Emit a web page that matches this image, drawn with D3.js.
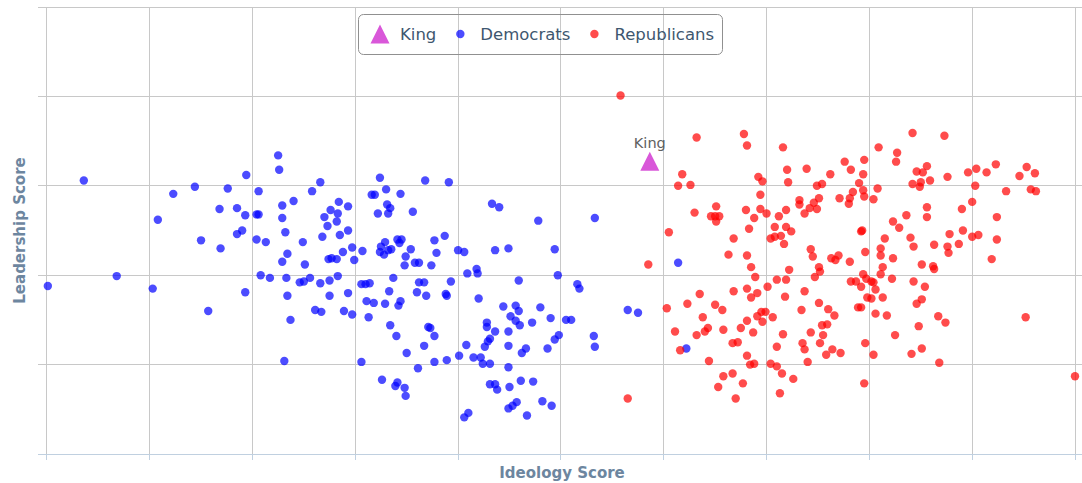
<!DOCTYPE html>
<html>
<head>
<meta charset="utf-8">
<script src="https://cdn.jsdelivr.net/npm/d3@7/dist/d3.min.js"></script>
<style>
  html, body { margin: 0; padding: 0; background: #fff; }
  svg { display: block; font-family: "DejaVu Sans", "Lucida Grande", sans-serif; }
</style>
</head>
<body>
<svg id="chart" width="1082" height="483"></svg>
<script>
// ---- data (ideology score on x, leadership score on y) ----
const seriesNames = ["King", "Democrats", "Republicans"];
const xTicks = [0, 1, 2, 3, 4, 5, 6, 7, 8, 9, 10];
const yTicks = [0, 1, 2, 3, 4, 5];

const king = [[5.865, 3.275]];

const democrats = [
  [0.36,3.06],[0.01,1.88],[0.68,1.99],
  [2.25,3.34],[2.26,3.18],[1.94,3.12],[2.66,3.04],[1.44,2.99],[1.23,2.91],[1.76,2.97],[2.06,2.94],[2.58,2.94],[2.40,2.83],[2.29,2.78],[1.68,2.74],[1.85,2.75],[1.93,2.67],[2.04,2.68],[2.06,2.68],[2.29,2.64],[2.76,2.73],[2.70,2.65],[2.73,2.55],[1.08,2.62],[1.90,2.50],[1.85,2.46],[2.32,2.48],[2.68,2.43],[1.50,2.39],[1.69,2.30],[2.04,2.40],[2.13,2.37],[2.49,2.37],[2.34,2.24],[2.29,2.15],[2.51,2.12],[2.74,2.18],[2.77,2.19],[2.08,2.00],[2.17,1.97],[2.33,1.97],[2.46,1.92],[2.50,1.93],[2.56,1.97],[2.66,1.91],[2.75,1.94],[1.03,1.85],[1.93,1.81],[2.34,1.77],[2.75,1.77],[1.57,1.60],[2.61,1.61],[2.67,1.59],[2.37,1.50],[2.31,1.04],
  [3.24,3.09],[3.68,3.06],[3.91,3.04],[3.30,2.96],[3.16,2.90],[3.19,2.90],[3.44,2.91],[2.84,2.82],[2.93,2.77],[2.83,2.69],[2.82,2.60],[3.31,2.79],[3.34,2.75],[3.22,2.69],[3.32,2.69],[3.56,2.71],[4.33,2.80],[4.40,2.76],
  [2.85,2.45],[2.93,2.50],[2.97,2.31],[2.88,2.26],[2.82,2.18],[2.99,2.17],[3.07,2.27],
  [3.29,2.37],[3.25,2.32],[3.24,2.26],[3.28,2.23],[3.32,2.28],[3.35,2.29],[3.41,2.40],[3.45,2.40],[3.43,2.36],[3.54,2.29],[3.49,2.21],[3.48,2.11],[3.58,2.14],[3.62,2.14],[3.74,2.11],[3.77,2.39],[3.87,2.44],[3.79,2.25],[4.00,2.28],[4.06,2.26],[4.36,2.28],[4.49,2.30],[4.09,2.02],[4.18,2.07],[4.19,2.02],[4.59,1.94],
  [2.83,1.99],[3.06,1.90],[3.10,1.90],[3.14,1.91],[3.37,1.97],[2.93,1.80],[3.33,1.82],[3.11,1.71],[3.18,1.69],[3.29,1.68],[3.44,1.71],[3.42,1.66],[3.60,1.81],[3.62,1.92],[3.67,1.92],[3.69,1.77],[3.93,1.93],[3.88,1.79],[3.89,1.77],[4.20,1.74],
  [2.89,1.60],[2.97,1.56],[3.13,1.53],[3.34,1.44],[3.40,1.32],[3.71,1.42],[3.73,1.41],[3.77,1.32],[3.67,1.21],[3.50,1.13],[3.06,1.03],[3.61,0.96],[3.77,1.03],[3.89,1.05],[4.01,1.10],[4.08,1.22],[4.15,1.08],[4.22,1.08],[4.24,1.01],[4.31,1.01],
  [4.44,1.65],[4.56,1.66],[4.59,1.60],[4.51,1.54],[4.56,1.49],[4.60,1.44],[4.28,1.47],[4.28,1.42],[4.36,1.37],[4.31,1.29],[4.29,1.26],[4.26,1.20],[4.49,1.37],[4.49,1.21],[4.62,1.13],[4.66,1.18],[4.49,0.97],[4.61,0.82],
  [3.26,0.83],[3.41,0.80],[3.39,0.76],[3.48,0.74],[3.49,0.65],[4.31,0.78],[4.36,0.78],[4.38,0.72],[4.50,0.75],[4.49,0.51],[4.53,0.54],[4.57,0.58],[4.67,0.43],[4.06,0.41],[4.10,0.46],
  [4.78,2.61],[5.33,2.64],[4.94,2.29],[4.97,2.00],[5.16,1.90],[5.18,1.85],[4.80,1.64],[4.72,1.47],[4.90,1.52],[5.05,1.50],[5.10,1.50],[4.98,1.33],[4.94,1.28],[4.87,1.18],[5.32,1.32],[5.33,1.20],[5.65,1.61],[5.75,1.58],[4.73,0.81],[4.82,0.59],[4.91,0.54],
  [6.14,2.14],[6.22,1.18]
];

const republicans = [
  [5.58,4.01],[5.65,0.62],
  [6.32,3.54],[6.78,3.58],[6.81,3.45],[7.16,3.43],[6.18,3.13],[6.14,3.00],[6.26,3.01],[7.20,3.18],[7.21,3.04],[6.92,3.10],[6.96,3.05],[6.94,2.90],[6.30,2.70],[6.51,2.77],[6.46,2.66],[6.50,2.66],[6.54,2.66],[6.51,2.60],[6.80,2.73],[6.88,2.64],[6.94,2.74],[7.00,2.69],[7.12,2.66],[7.19,2.73],[6.83,2.52],[7.08,2.54],[7.19,2.54],[7.24,2.49],[6.68,2.41],[7.04,2.41],[7.08,2.43],[7.14,2.44],[7.17,2.35],[6.05,2.48],[6.63,2.23],[6.81,2.22],[6.85,2.09],[6.89,1.98],[7.22,2.06],[7.10,1.95],[7.19,1.95],[7.01,1.87],[5.85,2.12],[6.35,1.79],[6.68,1.82],[6.81,1.85],[6.85,1.75],[6.91,1.80],[7.18,1.76],[6.03,1.63],[6.23,1.68],[6.50,1.67],[6.57,1.61],[6.95,1.59],[6.99,1.59],[6.91,1.54],[6.96,1.48],[7.06,1.53],[6.38,1.53],[6.81,1.49],[6.43,1.41],[6.40,1.37],[6.32,1.33],[6.58,1.39],[6.75,1.41],[6.87,1.36],[6.11,1.37],[7.16,1.34],[6.67,1.24],[6.72,1.25],[6.16,1.16],[7.10,1.20],[6.81,1.10],[6.84,1.00],[6.88,1.01],[6.44,1.04],[7.04,1.01],[7.10,0.98],[7.15,0.90],[7.26,0.84],[6.58,0.87],[6.67,0.90],[6.77,0.79],[6.53,0.75],[6.70,0.62],[7.13,0.68],
  [8.42,3.59],[8.09,3.43],[8.27,3.37],[8.26,3.27],[7.76,3.27],[7.95,3.29],[7.39,3.19],[7.62,3.13],[7.82,3.18],[7.94,3.13],[8.46,3.16],[8.52,3.15],[8.56,3.22],[8.59,3.06],[7.49,3.00],[7.54,3.02],[7.90,3.03],[7.94,2.95],[7.84,2.93],[7.81,2.86],[7.95,2.88],[8.04,2.85],[8.08,2.97],[7.71,2.86],[7.80,2.80],[7.32,2.84],[7.32,2.79],[7.51,2.86],[7.46,2.81],[7.42,2.75],[7.49,2.74],[7.37,2.69],[8.42,3.02],[8.49,2.99],[8.50,3.04],[8.56,2.76],[8.56,2.65],[8.36,2.67],[8.23,2.60],[8.29,2.53],[7.92,2.49],[7.93,2.50],[8.40,2.42],[8.43,2.32],[8.15,2.41],[8.63,2.34],[8.11,2.30],[8.11,2.22],[8.23,2.19],[7.96,2.26],[7.43,2.29],[7.45,2.21],[7.63,2.19],[7.67,2.17],[7.70,2.22],[7.81,2.15],[7.51,2.09],[7.52,2.04],[7.47,1.98],[8.51,2.12],[8.62,2.10],[8.63,2.07],[8.13,2.09],[8.11,2.01],[7.94,2.01],[7.82,1.93],[7.87,1.93],[7.97,1.96],[8.02,1.93],[8.04,1.92],[7.92,1.87],[8.22,1.96],[8.43,1.93],[8.54,1.87],[8.06,1.84],[7.37,1.82],[7.98,1.75],[8.02,1.74],[8.13,1.75],[7.51,1.69],[7.89,1.64],[7.92,1.64],[8.46,1.68],[8.51,1.73],[7.34,1.61],[7.60,1.62],[7.66,1.55],[8.06,1.57],[8.17,1.55],[8.67,1.54],[7.54,1.44],[7.59,1.45],[8.48,1.43],[7.43,1.36],[7.55,1.33],[8.25,1.33],[7.35,1.24],[7.37,1.17],[7.52,1.24],[7.96,1.24],[7.58,1.11],[7.64,1.17],[7.72,1.13],[8.04,1.11],[8.41,1.12],[8.51,1.18],[7.40,1.03],[8.68,1.02],[7.95,0.79],
  [8.73,3.56],[8.76,3.10],[8.96,3.15],[9.04,3.19],[9.14,3.15],[9.23,3.24],[9.03,3.00],[9.33,2.94],[9.46,3.11],[9.53,3.21],[9.61,3.14],[9.57,2.96],[9.62,2.94],[9.00,2.82],[8.90,2.74],[9.24,2.65],[8.91,2.50],[8.78,2.46],[9.00,2.43],[9.06,2.45],[9.24,2.40],[8.87,2.35],[8.76,2.32],[8.77,2.25],[9.19,2.18],[8.74,1.47],[9.52,1.53],[10.00,0.87]
];

// ---- layout / style ----
const W = 1082, H = 483;
const plotLeft = 38, plotRight = 1082, plotTop = 7, plotBottom = 454;
const colors = { King: "#d957d9", Democrats: "rgba(0,0,255,0.7)", Republicans: "rgba(255,0,0,0.7)" };

const svg = d3.select("#chart");
svg.append("rect").attr("width", W).attr("height", H).attr("fill", "#fff");

const x = d3.scaleLinear().domain([0, 10]).range([46.8, 1075]);
const y = d3.scaleLinear().domain([0, 5]).range([plotBottom, plotTop]);
const crisp = v => Math.floor(v) + 0.5;

// grid
const grid = svg.append("g");
grid.selectAll("line.v").data(xTicks).join("line")
  .attr("x1", d => crisp(x(d))).attr("x2", d => crisp(x(d)))
  .attr("y1", plotTop).attr("y2", plotBottom)
  .attr("stroke", "#C8C8C8").attr("stroke-width", 1);
grid.selectAll("line.h").data(yTicks).join("line")
  .attr("x1", plotLeft).attr("x2", plotRight)
  .attr("y1", d => crisp(y(d))).attr("y2", d => crisp(y(d)))
  .attr("stroke", "#C8C8C8").attr("stroke-width", 1);

// x axis line and ticks
svg.append("line").attr("x1", plotLeft).attr("x2", plotRight)
  .attr("y1", crisp(y(0))).attr("y2", crisp(y(0)))
  .attr("stroke", "#C0D0E0").attr("stroke-width", 1);
svg.append("g").selectAll("line").data(xTicks).join("line")
  .attr("x1", d => crisp(x(d))).attr("x2", d => crisp(x(d)))
  .attr("y1", plotBottom).attr("y2", plotBottom + 6)
  .attr("stroke", "#C0D0E0").attr("stroke-width", 1);

// triangle path
const tri = (cx, cy, r) => `M${cx},${cy - r}L${cx + r},${cy + r}L${cx - r},${cy + r}Z`;

// series
svg.append("g").selectAll("path").data(king).join("path")
  .attr("d", d => tri(x(d[0]), y(d[1]), 9.5))
  .attr("fill", colors.King);

svg.append("g").selectAll("circle").data(democrats).join("circle")
  .attr("cx", d => x(d[0])).attr("cy", d => y(d[1])).attr("r", 4.2)
  .attr("fill", colors.Democrats);

svg.append("g").selectAll("circle").data(republicans).join("circle")
  .attr("cx", d => x(d[0])).attr("cy", d => y(d[1])).attr("r", 4.2)
  .attr("fill", colors.Republicans);

// data label
svg.append("g").selectAll("text").data(king).join("text")
  .attr("x", d => x(d[0])).attr("y", d => y(d[1]) - 13)
  .attr("text-anchor", "middle").attr("font-size", 14.5).attr("fill", "#606060")
  .text("King");

// axis titles
svg.append("text").attr("x", 562).attr("y", 478)
  .attr("text-anchor", "middle").attr("font-size", 15).attr("font-weight", "bold")
  .attr("fill", "#6D869F").text("Ideology Score");
svg.append("text").attr("transform", "translate(25,230.5) rotate(-90)")
  .attr("text-anchor", "middle").attr("font-size", 15).attr("font-weight", "bold")
  .attr("fill", "#6D869F").text("Leadership Score");

// legend
const legend = svg.append("g");
legend.append("rect").attr("x", 358.5).attr("y", 14.5).attr("width", 364).attr("height", 40)
  .attr("rx", 5).attr("fill", "none").attr("stroke", "#909090").attr("stroke-width", 1);
let lx = 380;
const ly = 34;
seriesNames.forEach(name => {
  if (name === "King") {
    legend.append("path").attr("d", tri(lx, ly, 9.5)).attr("fill", colors.King);
  } else {
    legend.append("circle").attr("cx", lx).attr("cy", ly).attr("r", 4.2).attr("fill", colors[name]);
  }
  const t = legend.append("text").attr("x", lx + 20).attr("y", ly + 5.5)
    .attr("font-size", 16.5).attr("fill", "#3E576F").text(name);
  lx = lx + 20 + t.node().getComputedTextLength() + 24;
});
</script>
</body>
</html>
